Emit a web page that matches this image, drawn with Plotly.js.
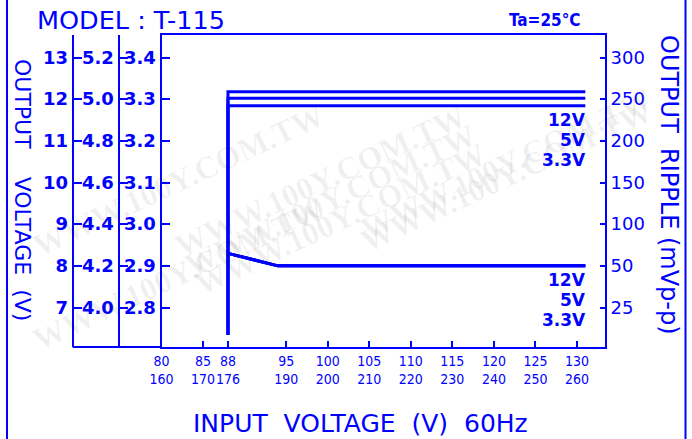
<!DOCTYPE html>
<html>
<head>
<meta charset="utf-8">
<script src="https://cdn.plot.ly/plotly-3.0.1.min.js"></script>
<style>html,body{margin:0;padding:0;background:#fff;}#chart{width:692px;height:439px;}</style>
</head>
<body>
<div id="chart"></div>
<script>
// ---- data ----
const xTickVals = [80, 85, 88, 95, 100, 105, 110, 115, 120, 125, 130];
const xTickAlt  = [160, 170, 176, 190, 200, 210, 220, 230, 240, 250, 260];

const ticks12V = [7, 8, 9, 10, 11, 12, 13];
const ticks5V  = [4.0, 4.2, 4.4, 4.6, 4.8, 5.0, 5.2];
const ticks33V = [2.8, 2.9, 3.0, 3.1, 3.2, 3.3, 3.4];
const rippleTickVals = [300, 250, 200, 150, 100, 50, 0];
const rippleTickText = ['300', '250', '200', '150', '100', '50', '25'];

// output voltage vs input voltage
const outX   = [88, 88, 131];
const out12V = [6.34, 12.18, 12.18];
const out5V  = [3.868, 5.005, 5.005];
const out33V = [2.734, 3.284, 3.284];

// output ripple (mVp-p) vs input voltage
const rippleX   = [88, 94, 131];
const ripple12V = [65, 50, 50];
const ripple5V  = [65, 50, 50];
const ripple33V = [65, 50, 50];

// ---- drawing ----
const BLUE = '#0000ff';
const L = 20, R = 87, T = 35, B = 92, W = 692, H = 439;
const PW = W - L - R, PH = H - T - B;
const px = v => (v - L) / PW;          // page x -> paper
const py = v => (H - B - v) / PH;      // page y -> paper

const lineStyle = {color: BLUE, width: 3};
const traces = [
  {x: outX, y: out12V, yaxis: 'y2', mode: 'lines', line: lineStyle, hoverinfo: 'skip'},
  {x: outX, y: out5V,  yaxis: 'y3', mode: 'lines', line: lineStyle, hoverinfo: 'skip'},
  {x: outX, y: out33V, yaxis: 'y',  mode: 'lines', line: lineStyle, hoverinfo: 'skip'},
  {x: rippleX, y: ripple12V, yaxis: 'y4', mode: 'lines', line: lineStyle, hoverinfo: 'skip'},
  {x: rippleX, y: ripple5V,  yaxis: 'y4', mode: 'lines', line: lineStyle, hoverinfo: 'skip'},
  {x: rippleX, y: ripple33V, yaxis: 'y4', mode: 'lines', line: lineStyle, hoverinfo: 'skip'}
];

const yTickFont = {family: 'DejaVu Sans', size: 18, color: BLUE, weight: 700};
const baseY = {
  showgrid: false, zeroline: false, showline: true, linecolor: BLUE, linewidth: 2,
  ticks: 'inside', ticklen: 8, tickwidth: 2, tickcolor: BLUE, tickfont: yTickFont,
  tickmode: 'array', fixedrange: true
};
// common span of the left scales (12V scale units)
const u0 = 6.052, u1 = 13.54;

const layout = {
  width: W, height: H,
  margin: {l: L, r: R, t: T, b: B, pad: 0},
  paper_bgcolor: '#ffffff', plot_bgcolor: '#ffffff',
  showlegend: false,
  xaxis: {
    domain: [px(161.5), 1], range: [80, 133.37],
    tickmode: 'array', tickvals: xTickVals, tickangle: 0,
    ticktext: xTickVals.map((v, i) => v + '<br>' + xTickAlt[i]),
    ticks: 'inside', ticklen: 6, tickwidth: 2, tickcolor: BLUE,
    tickfont: {family: 'DejaVu Sans Condensed', size: 14, color: BLUE},
    showline: true, mirror: true, linecolor: BLUE, linewidth: 2,
    showgrid: false, zeroline: false, fixedrange: true
  },
  yaxis: Object.assign({}, baseY, {
    anchor: 'x', side: 'left',
    range: [2.8 + (u0 - 7) * 0.1, 2.8 + (u1 - 7) * 0.1],
    tickvals: ticks33V, ticktext: ticks33V.map(v => v.toFixed(1))
  }),
  yaxis2: Object.assign({}, baseY, {
    overlaying: 'y', anchor: 'free', position: px(72.7), side: 'left',
    range: [u0, u1], tickvals: ticks12V, ticktext: ticks12V.map(String)
  }),
  yaxis3: Object.assign({}, baseY, {
    overlaying: 'y', anchor: 'free', position: px(118.5), side: 'left',
    range: [4.0 + (u0 - 7) * 0.2, 4.0 + (u1 - 7) * 0.2],
    tickvals: ticks5V, ticktext: ticks5V.map(v => v.toFixed(1))
  }),
  yaxis4: Object.assign({}, baseY, {
    overlaying: 'y', anchor: 'x', side: 'right',
    range: [50 + (u0 - 8) * 50, 50 + (u1 - 8) * 50],
    tickvals: rippleTickVals, ticktext: rippleTickText, ticklen: 5,
    tickfont: {family: 'DejaVu Sans', size: 18, color: BLUE}
  }),
  shapes: [
    {type: 'line', xref: 'paper', yref: 'paper', x0: px(7), x1: px(7), y0: py(H + 5), y1: py(-5), line: {color: BLUE, width: 2}},
    {type: 'line', xref: 'paper', yref: 'paper', x0: px(685.5), x1: px(685.5), y0: py(H + 5), y1: py(-5), line: {color: BLUE, width: 2}},
    {type: 'line', xref: 'paper', yref: 'paper', x0: px(72.7), x1: px(161.5), y0: 0, y1: 0, line: {color: BLUE, width: 2}}
  ],
  annotations: []
};

const nb = n => '\u00a0'.repeat(n);
const ann = layout.annotations;
// faint watermark
const wm = [[320, 95], [330, 200], [340, 305], [660, 90], [660, 250], [25, 180], [25, 360]];
wm.forEach(p => ann.push({
  xref: 'paper', yref: 'paper', x: px(p[0]), y: py(p[1]), showarrow: false,
  text: 'WWW.100Y.COM.TW', textangle: -25,
  font: {family: 'Liberation Serif', size: 32, color: 'rgba(0,0,0,0.06)', weight: 700}
}));
ann.push(
  {xref: 'paper', yref: 'paper', x: px(35), y: py(20), xanchor: 'left', yanchor: 'middle', showarrow: false,
   text: 'MODEL' + nb(1) + ':' + nb(1) + 'T-115', font: {family: 'DejaVu Sans', size: 25.5, color: BLUE}},
  {xref: 'paper', yref: 'paper', x: px(583), y: py(20), xanchor: 'right', yanchor: 'middle', showarrow: false,
   text: 'Ta=25°C', font: {family: 'DejaVu Sans Condensed', size: 17, color: BLUE, weight: 700}},
  {xref: 'paper', yref: 'paper', x: px(360), y: py(423), xanchor: 'center', yanchor: 'middle', showarrow: false,
   text: 'INPUT' + nb(2) + 'VOLTAGE' + nb(2) + '(V)' + nb(2) + '60Hz', font: {family: 'DejaVu Sans', size: 25, color: BLUE}},
  {xref: 'paper', yref: 'paper', x: px(23), y: py(190), xanchor: 'center', yanchor: 'middle', showarrow: false, textangle: 90,
   text: 'OUTPUT' + nb(4) + 'VOLTAGE' + nb(2) + '(V)', font: {family: 'DejaVu Sans', size: 22, color: BLUE}},
  {xref: 'paper', yref: 'paper', x: px(669), y: py(185), xanchor: 'center', yanchor: 'middle', showarrow: false, textangle: 90,
   text: 'OUTPUT' + nb(2) + 'RIPPLE' + nb(1) + '(mVp-p)', font: {family: 'DejaVu Sans', size: 24, color: BLUE}}
);
const seriesLabels = ['12V', '5V', '3.3V'];
[[120, 140, 160], [280, 300, 320]].forEach(g => g.forEach((yy, i) => ann.push({
  xref: 'paper', yref: 'paper', x: px(588), y: py(yy), xanchor: 'right', yanchor: 'middle', showarrow: false,
  text: seriesLabels[i], font: {family: 'DejaVu Sans', size: 17, color: BLUE, weight: 700}
})));

Plotly.newPlot('chart', traces, layout, {staticPlot: true, displayModeBar: false});
</script>
</body>
</html>
